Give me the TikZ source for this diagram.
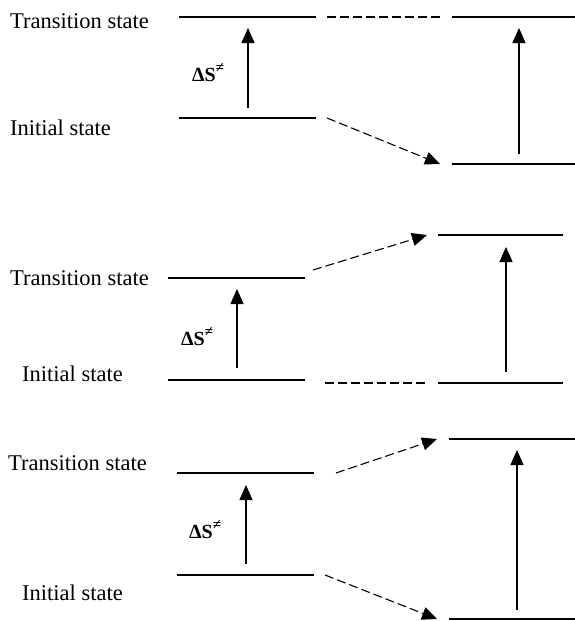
\documentclass[tikz,border=0pt]{standalone}
\usepackage{fontspec}
\setmainfont{Liberation Serif}
\usetikzlibrary{arrows.meta}

\tikzset{
	level/.style={line width=1.1pt},
	rise/.style={line width=1.1pt, -{Triangle[length=15pt,width=13pt]}},
	moved/.style={line width=1.1pt, dash pattern=on 9pt off 4pt, -{Triangle[length=15pt,width=13pt]}},
	movedlevel/.style={line width=1.1pt, dash pattern=on 9pt off 4pt},
	lbl/.style={anchor=west, inner sep=0pt, font=\fontsize{22.5}{27}\selectfont},
	ds/.style={anchor=west, inner sep=0pt, font=\fontsize{20}{24}\selectfont\bfseries}
}
\newcommand{\dsym}{ΔS\raisebox{0.45em}{\fontsize{15}{18}\selectfont ≠}}

\begin{document}
\begin{tikzpicture}[x=1pt, y=-1pt]
	\useasboundingbox (0,0) rectangle (575,621);
	% top: initial state lowered, transition state unchanged
	\node [lbl] (ts1) at (10,21) {Transition state};
	\node [lbl] (is1) at (10,128) {Initial state};
	\node [ds] (ds1) at (192,73) {\dsym};
	\draw [level] (179,17) -- (316,17);
	\draw [level] (179,118) -- (316,118);
	\draw [movedlevel] (327,17) -- (440,17);
	\draw [level] (452,17) -- (575,17);
	\draw [level] (452,164) -- (575,164);
	\coordinate (a1) at (248,108); \coordinate (b1) at (248,28);
	\coordinate (c1) at (519,154); \coordinate (d1) at (519,28);
	\coordinate (e1) at (327,118); \coordinate (f1) at (440,164);
	\draw [rise] (a1) -- (b1);
	\draw [rise] (c1) -- (d1);
	\draw [moved] (e1) -- (f1);
	% middle: transition state raised, initial state unchanged
	\node [lbl] (ts2) at (10,278) {Transition state};
	\node [lbl] (is2) at (22,374) {Initial state};
	\node [ds] (ds2) at (181,337) {\dsym};
	\draw [level] (168,278) -- (305,278);
	\draw [level] (168,380) -- (305,380);
	\draw [movedlevel] (325,383) -- (425,383);
	\draw [level] (438,235) -- (563,235);
	\draw [level] (438,383) -- (563,383);
	\coordinate (a2) at (237,368); \coordinate (b2) at (237,289);
	\coordinate (c2) at (506,372); \coordinate (d2) at (506,247);
	\coordinate (e2) at (313,270); \coordinate (f2) at (427,235);
	\draw [rise] (a2) -- (b2);
	\draw [rise] (c2) -- (d2);
	\draw [moved] (e2) -- (f2);
	% bottom: both states shifted apart
	\node [lbl] (ts3) at (8,463) {Transition state};
	\node [lbl] (is3) at (22,593) {Initial state};
	\node [ds] (ds3) at (189,530) {\dsym};
	\draw [level] (177,473) -- (314,473);
	\draw [level] (177,575) -- (314,575);
	\draw [level] (449,439) -- (575,439);
	\draw [level] (449,619) -- (575,619);
	\coordinate (a3) at (246,564); \coordinate (b3) at (246,485);
	\coordinate (c3) at (517,610); \coordinate (d3) at (517,450);
	\coordinate (e3) at (336,473); \coordinate (f3) at (437,439);
	\coordinate (g3) at (325,575); \coordinate (h3) at (437,619);
	\draw [rise] (a3) -- (b3);
	\draw [rise] (c3) -- (d3);
	\draw [moved] (e3) -- (f3);
	\draw [moved] (g3) -- (h3);
\end{tikzpicture}
\end{document}
